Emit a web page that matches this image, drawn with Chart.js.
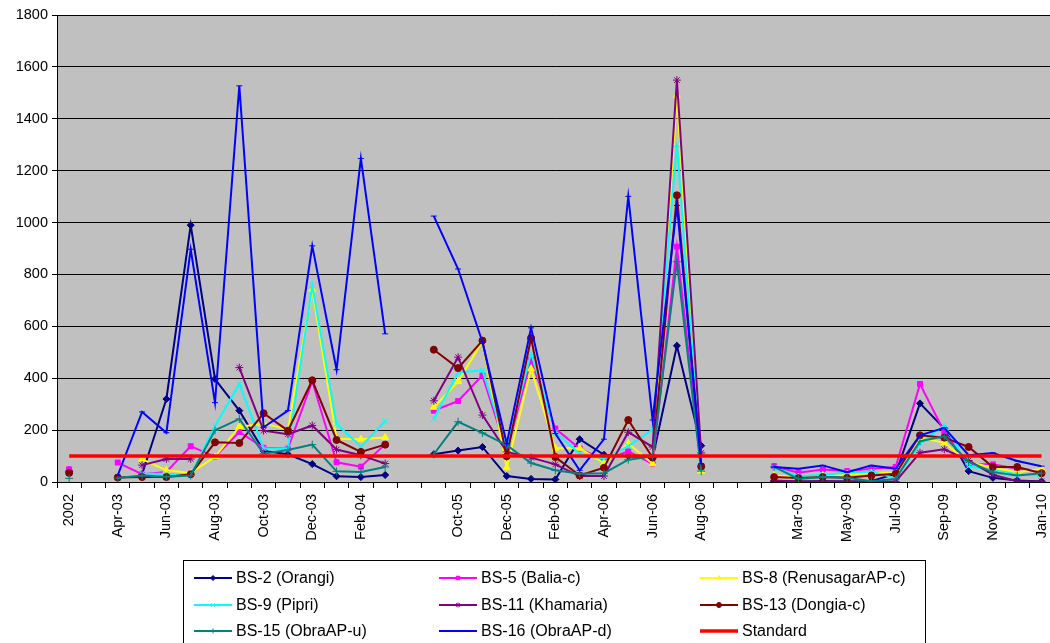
<!DOCTYPE html>
<html>
<head>
<meta charset="utf-8">
<script src="https://cdn.jsdelivr.net/npm/chart.js@4/dist/chart.umd.min.js"></script>
<style>
  html, body { margin: 0; padding: 0; background: #fff; overflow: hidden; }
  #wrap { position: relative; width: 1065px; height: 643px; }
</style>
</head>
<body>
<div id="wrap"><canvas id="c" width="1065" height="643"></canvas></div>
<script>
// Sampling months (blank entries are gaps between campaigns)
const categories = [
  '2002', '', 'Apr-03', 'May-03', 'Jun-03', 'Jul-03', 'Aug-03', 'Sep-03', 'Oct-03', 'Nov-03',
  'Dec-03', 'Jan-04', 'Feb-04', 'Mar-04', '', 'Sep-05', 'Oct-05', 'Nov-05', 'Dec-05', 'Jan-06',
  'Feb-06', 'Mar-06', 'Apr-06', 'May-06', 'Jun-06', 'Jul-06', 'Aug-06', '', '', 'Feb-09',
  'Mar-09', 'Apr-09', 'May-09', 'Jun-09', 'Jul-09', 'Aug-09', 'Sep-09', 'Oct-09', 'Nov-09', 'Dec-09',
  'Jan-10'
];

const yTicks = [0, 200, 400, 600, 800, 1000, 1200, 1400, 1600, 1800];

const bs2 = [
  42, null, null, 30, 320, 990, 397, 275, 120, 107,
  69, 22, 19, 27, null, 107, 121, 135, 23, 12,
  10, 165, 105, 100, 92, 525, 140, null, null, 3,
  2, 3, 2, 3, 32, 303, 206, 42, 16, 6,
  2
];
const bs5 = [
  49, null, 75, 30, 39, 138, 97, 193, 132, 129,
  388, 76, 59, 145, null, 275, 312, 411, 118, 471,
  206, 129, 84, 118, 70, 907, 58, null, null, 61,
  36, 48, 42, 51, 58, 378, 193, 68, 68, 51,
  42
];
const bs8 = [
  null, null, null, 88, 45, 35, 97, 213, 224, 203,
  743, 167, 165, 172, null, 288, 387, 542, 55, 436,
  130, 130, 73, 148, 70, 1489, 42, null, null, 25,
  19, 25, 29, 34, 38, 171, 151, 77, 55, 38,
  51
];
const bs9 = [
  null, null, null, 32, 32, 26, 216, 378, 130, 129,
  757, 224, 136, 234, null, 244, 423, 430, 135, 497,
  193, 109, 90, 138, 202, 1302, 51, null, null, 55,
  22, 28, 36, 40, 15, 148, 219, 60, 45, 29,
  25
];
const bs11 = [
  null, null, null, 65, 89, 89, null, 441, 198, 184,
  218, 125, 103, 71, null, 313, 481, 258, 116, 94,
  68, 23, 23, 192, 135, 1549, 112, null, null, 6,
  2, 2, 2, 2, 2, 113, 126, 83, 28, 3,
  2
];
const bs13 = [
  35, null, 17, 19, 19, 30, 153, 150, 265, 198,
  392, 162, 116, 144, null, 510, 439, 545, 99, 555,
  96, 25, 55, 239, 94, 1105, 60, null, null, 19,
  15, 19, 16, 25, 32, 180, 171, 135, 58, 58,
  34
];
const bs15 = [
  14, null, 15, 25, 20, 25, 199, 243, 109, 123,
  144, 41, 39, 58, null, 107, 232, 189, 142, 73,
  45, 32, 34, 86, 99, 849, 42, null, null, 58,
  12, 19, 16, 3, 12, 157, 176, 77, 38, 25,
  34
];
const bs16 = [
  null, null, 26, 270, 190, 897, 306, 1527, 211, 275,
  910, 433, 1247, 571, null, 1025, 821, 540, 148, 594,
  187, 45, 165, 1101, 239, 1066, 70, null, null, 58,
  51, 64, 38, 64, 51, 180, 209, 103, 112, 81,
  61
];
const standard = [
  100, 100, 100, 100, 100, 100, 100, 100, 100, 100,
  100, 100, 100, 100, 100, 100, 100, 100, 100, 100,
  100, 100, 100, 100, 100, 100, 100, 100, 100, 100,
  100, 100, 100, 100, 100, 100, 100, 100, 100, 100,
  100
];

const FONT = '"Liberation Sans", Arial, sans-serif';

function station(label, data, color, pointStyle, radius, order) {
  return {
    label, data, order,
    borderColor: color, backgroundColor: color,
    borderWidth: 2,
    pointStyle, pointRadius: radius,
    pointBorderColor: color, pointBackgroundColor: color, pointBorderWidth: 1,
    tension: 0, spanGaps: false
  };
}

const datasets = [
  station('BS-2 (Orangi)', bs2, '#000080', 'rectRot', 3.5, 8),
  station('BS-5 (Balia-c)', bs5, '#FF00FF', 'rect', 3.5, 7),
  station('BS-8 (RenusagarAP-c)', bs8, '#FFFF00', 'triangle', 4, 6),
  station('BS-9 (Pipri)', bs9, '#00FFFF', 'crossRot', 4, 5),
  station('BS-11 (Khamaria)', bs11, '#800080', 'star', 4, 4),
  station('BS-13 (Dongia-c)', bs13, '#800000', 'circle', 3.5, 3),
  station('BS-15 (ObraAP-u)', bs15, '#008080', 'cross', 4, 2),
  station('BS-16 (ObraAP-d)', bs16, '#0000FF', 'line', 3, 1),
  {
    label: 'Standard', data: standard, order: 0,
    borderColor: '#FF0000', backgroundColor: '#FF0000',
    borderWidth: 3.5, pointRadius: 0, tension: 0
  }
];

// Grey plot area behind the series
const plotBackground = {
  id: 'plotBackground',
  beforeDraw(chart) {
    const { ctx, chartArea: a } = chart;
    ctx.save();
    ctx.fillStyle = '#C0C0C0';
    ctx.fillRect(a.left, a.top, a.right - a.left, a.bottom - a.top);
    ctx.restore();
  }
};

// Boxed three-column legend under the axis
const boxedLegend = {
  id: 'boxedLegend',
  afterDraw(chart) {
    const ctx = chart.ctx;
    const colX = [194, 439, 700];
    const rowY = [578, 605, 631];
    ctx.save();
    ctx.strokeStyle = '#000';
    ctx.lineWidth = 1;
    ctx.strokeRect(183.5, 560.5, 742, 95);
    chart.data.datasets.forEach((ds, i) => {
      const x = colX[i % 3];
      const y = rowY[Math.floor(i / 3)];
      ctx.strokeStyle = ds.borderColor;
      ctx.lineWidth = ds.borderWidth;
      ctx.beginPath();
      ctx.moveTo(x, y);
      ctx.lineTo(x + 38, y);
      ctx.stroke();
      if (ds.pointRadius > 0) {
        ctx.fillStyle = ds.borderColor;
        ctx.strokeStyle = ds.borderColor;
        ctx.lineWidth = 1;
        Chart.helpers.drawPoint(ctx, {
          pointStyle: ds.pointStyle, radius: 2.5, rotation: 0, borderWidth: 1
        }, x + 19, y);
      }
      ctx.fillStyle = '#000';
      ctx.font = '16px ' + FONT;
      ctx.textAlign = 'left';
      ctx.textBaseline = 'middle';
      ctx.fillText(ds.label, x + 42, y + 1);
    });
    ctx.restore();
  }
};

new Chart(document.getElementById('c'), {
  type: 'line',
  data: { labels: categories, datasets },
  plugins: [plotBackground, boxedLegend],
  options: {
    responsive: false,
    animation: false,
    layout: { padding: { top: 15, right: 2, left: 0, bottom: 0 } },
    plugins: {
      legend: { display: false },
      tooltip: { enabled: false }
    },
    scales: {
      x: {
        type: 'category',
        offset: true,
        grid: {
          offset: true, drawOnChartArea: false, drawTicks: true,
          tickLength: 6, color: '#000', lineWidth: 1
        },
        border: { display: true, color: '#000', width: 1 },
        ticks: {
          autoSkip: false, maxRotation: 90, minRotation: 90, padding: 6,
          color: '#000', font: { family: FONT, size: 14.5 },
          callback(value, index) {
            return index % 2 === 0 ? this.getLabelForValue(value) : '';
          }
        },
        afterFit(scale) { scale.height = 161; }
      },
      y: {
        min: yTicks[0], max: yTicks[yTicks.length - 1],
        afterBuildTicks(scale) { scale.ticks = yTicks.map(v => ({ value: v })); },
        grid: { color: '#000', lineWidth: 1, drawTicks: true, tickLength: 5 },
        border: { display: true, color: '#000', width: 1 },
        ticks: {
          padding: 4, color: '#000', font: { family: FONT, size: 14.5 },
          callback: (value) => String(value)
        },
        afterFit(scale) { scale.width = 57; }
      }
    }
  }
});
</script>
</body>
</html>
